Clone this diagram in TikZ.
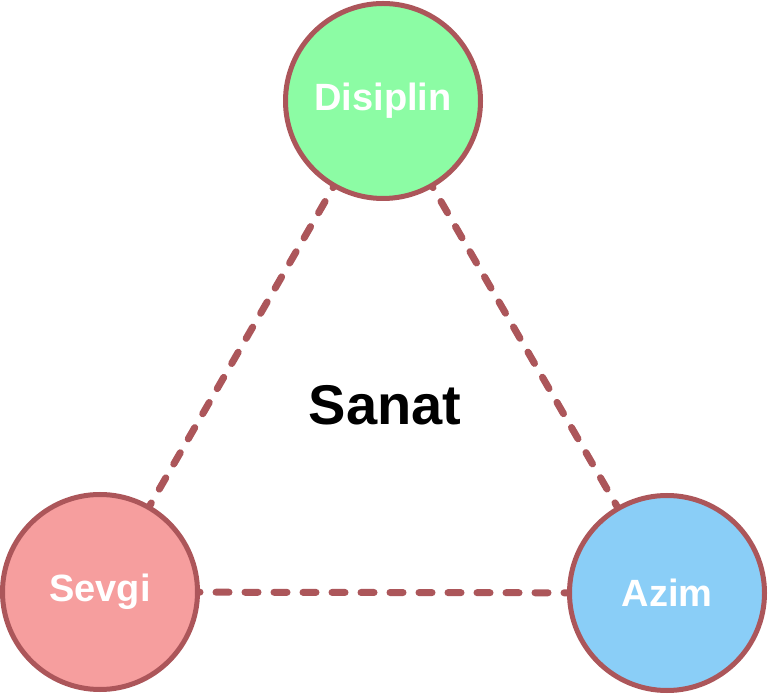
\documentclass[tikz,border=0pt]{standalone}
\usepackage{fontspec}
\setmainfont{Liberation Sans}
\definecolor{edgec}{RGB}{172,86,90}
\definecolor{greenf}{RGB}{140,252,164}
\definecolor{pinkf}{RGB}{246,158,158}
\definecolor{bluef}{RGB}{138,206,247}
\tikzset{
  bubble/.style={circle, draw=edgec, line width=5pt, minimum size=195pt, inner sep=0pt,
    text=white, font=\fontsize{38}{44}\selectfont\bfseries},
  link/.style={draw=edgec, line width=7pt, line cap=round, dash pattern=on 13pt off 16pt}
}
\begin{document}
\begin{tikzpicture}[x=1pt,y=1pt]
\useasboundingbox (0,0) rectangle (768,696);
\fill[white] (0,0) rectangle (768,696);
\coordinate (cD) at (383,595);
\coordinate (cS) at (100,104);
\coordinate (cA) at (667,103);
\draw[link] (cD) -- (cS);
\draw[link] (cD) -- (cA);
\draw[link] (cS) -- (cA);
\node[bubble, fill=greenf] (dis) at (cD) {Disiplin};
\node[bubble, fill=pinkf] (sev) at (cS) {Sevgi};
\node[bubble, fill=bluef] (azi) at (cA) {Azim};
\node[font=\fontsize{56}{64}\selectfont\bfseries, text=black] (san) at (385,291) {Sanat};
\end{tikzpicture}
\end{document}
